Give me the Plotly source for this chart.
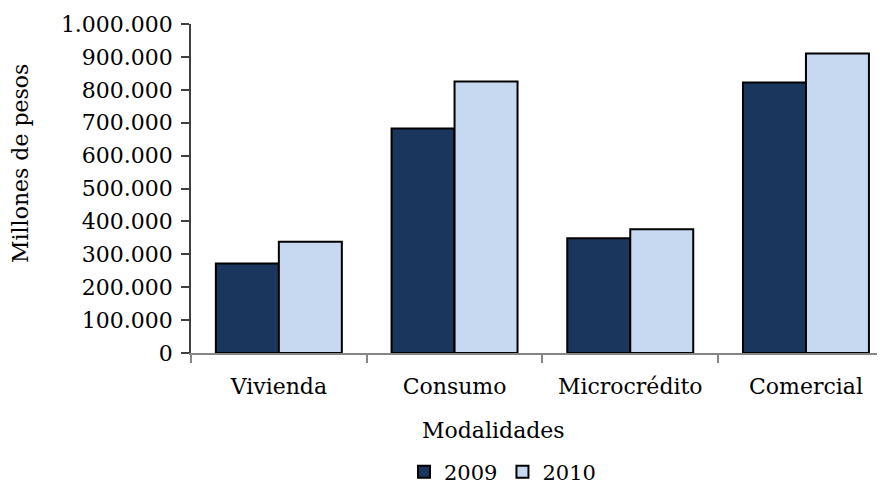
import plotly.graph_objects as go

categories = ["Vivienda", "Consumo", "Microcrédito", "Comercial"]
years = ["2009", "2010"]
values_2009 = [272000, 682000, 349000, 822000]
values_2010 = [338000, 825000, 376000, 910000]
y_ticks = [0, 100000, 200000, 300000, 400000, 500000, 600000, 700000, 800000, 900000, 1000000]

FONT = "DejaVu Serif"
FS = 22
colors = ["#1B365D", "#C6D9F0"]

# page offset from the default body margin (8px)
OFF = 8
L, T, B = 191 - OFF, 24 - OFF, 131
W, H = 885 - OFF, 484 - OFF
PW = W - L
PH = H - T - B


def px_x(p):
    return (p - 191) / PW


def px_y(p):
    return (353 - p) / PH


fig = go.Figure()
for name, vals, c in zip(years, [values_2009, values_2010], colors):
    fig.add_trace(go.Bar(
        x=categories, y=vals, name=name,
        marker=dict(color=c, line=dict(color="#000000", width=2)),
    ))

fig.update_layout(
    width=W, height=H,
    margin=dict(l=L, r=0, t=T, b=B, pad=0, autoexpand=False),
    paper_bgcolor="white", plot_bgcolor="white",
    barmode="group", bargap=0.283, bargroupgap=0,
    separators=",.",
    font=dict(family=FONT, color="#000000", size=FS),
    showlegend=True,
    legend=dict(orientation="h", xref="container", yref="container",
                x=(404 - OFF) / W, xanchor="left",
                y=1 - (472 - OFF) / H, yanchor="middle", font=dict(family=FONT, size=21),
                itemwidth=30, tracegroupgap=0, bgcolor="rgba(0,0,0,0)"),
    xaxis=dict(range=[-0.5, -0.5 + PW / 175.7], showline=True, linecolor="#868686", linewidth=1.5,
               ticks="outside", tickson="boundaries", ticklen=8, tickcolor="#868686", tickwidth=1.5,
               tickfont=dict(family=FONT, size=FS), ticklabelstandoff=13, showgrid=False,
               automargin=False),
    yaxis=dict(range=[0, 1000000], tickvals=y_ticks, tickformat=",d",
               showline=True, linecolor="#404040", linewidth=1.5,
               ticks="outside", ticklen=8, tickcolor="#404040", tickwidth=1.5,
               tickfont=dict(family=FONT, size=FS), ticklabelstandoff=4,
               showgrid=False, zeroline=False, automargin=False),
    annotations=[
        dict(text="Millones de pesos", x=px_x(21), y=px_y(164), xref="paper", yref="paper",
             xanchor="center", yanchor="middle",
             showarrow=False, textangle=-90, font=dict(family=FONT, size=FS)),
        dict(text="Modalidades", x=px_x(493), y=px_y(430), xref="paper", yref="paper",
             xanchor="center", yanchor="middle",
             showarrow=False, font=dict(family=FONT, size=FS)),
    ],
)
fig.write_html("out.html")
